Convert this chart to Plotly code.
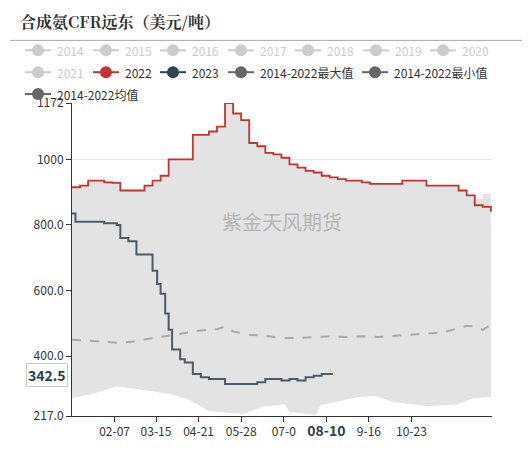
import plotly.graph_objects as go

days22 = [1,8,15,22,29,36,43,50,57,64,71,78,85,92,99,106,113,120,127,134,141,148,155,162,169,176,183,190,197,204,211,218,225,232,239,246,253,260,267,274,281,288,295,302,309,316,323,330,337,344,351,358,365]
v22 = [915,920,935,935,930,928,905,905,905,920,935,950,1000,1000,1000,1075,1075,1085,1100,1172,1140,1120,1050,1040,1020,1015,1005,985,975,965,960,950,945,940,935,935,930,925,925,925,925,935,935,935,920,920,920,920,905,890,860,855,840]
days23 = [1,4,29,40,43,50,57,64,71,75,78,82,85,88,95,99,106,113,120,127,134,141,148,155,162,169,176,183,190,197,204,211,218,227]
v23 = [835,810,805,800,760,750,710,710,660,620,590,530,480,420,390,380,345,335,330,330,315,315,315,315,320,330,330,325,330,325,335,340,345,342.5]
max_days = [1,8,15,22,29,36,43,50,57,64,71,78,85,92,99,106,113,120,127,134,141,148,155,162,169,176,183,190,197,204,211,218,225,232,239,246,253,260,267,274,281,288,295,302,309,316,323,330,337,344,351,358,365]
max_v = [915,920,935,935,930,928,905,905,905,920,935,950,1000,1000,1000,1075,1075,1085,1100,1172,1140,1120,1050,1040,1020,1015,1005,985,975,965,960,950,945,940,935,935,930,925,925,925,925,935,935,935,920,920,920,920,905,890,880,895,910]
min_days = [1,20,40,64,85,103,120,150,168,186,190,213,217,250,265,280,310,336,350,365]
min_v = [272,285,308,295,285,266,232,223,247,253,229,220,250,275,278,260,247,253,272,275]
mean_days = [1,15,29,43,57,71,85,99,113,127,134,141,155,169,183,197,211,225,239,253,267,281,295,309,323,337,344,351,358,365]
mean_v = [450,447,445,440,445,455,462,470,478,482,490,475,465,462,455,455,458,460,458,460,458,462,465,470,472,485,492,490,480,495]
legend_names = ["2014","2015","2016","2017","2018","2019","2020","2021","2022","2023","2014-2022最大值","2014-2022最小值","2014-2022均值"]
legend_colors = ["#ccc"]*8 + ["#c23531","#2f4554","#666","#666","#666"]
legend_text_colors = ["#ccc"]*8 + ["#333"]*5
tick_days = [38,74,111,148,185,222,259,296]
tick_labels = ["02-07","03-15","04-21","05-28","07-0","<b style='font-size:14px;color:#2d3e50'>08-10</b>","9-16","10-23"]
y_ticks = [217,400,600,800,1000,1172]
y_labels = ["217.0","400.0","600.0","800.0","1000","1172"]

OFF = 8  # page body margin
L, T, W, H = 72 - OFF, 103 - OFF, 420, 315
FW, FH = 532 - 2*OFF, 460 - 2*OFF
def px(x): return (x - OFF - L) / W
def py(y): return (T + H - (y - OFF)) / H

leg_pos = [(38,50),(106,50),(173,50),(241,50),(308,50),(376,50),(443,50),
           (38,72),(106,72),(173,72),(241,72),(375,72),(38,94)]

fig = go.Figure()
fig.add_trace(go.Scatter(x=min_days, y=min_v, mode="lines", line=dict(width=0), hoverinfo="skip"))
fig.add_trace(go.Scatter(x=max_days, y=max_v, mode="lines", line=dict(width=0, shape="hv"), fill="tonexty",
                         fillcolor="#e3e3e3", hoverinfo="skip", name="2014-2022最大值"))
fig.add_trace(go.Scatter(x=days22, y=v22, name="2022", mode="lines", line=dict(color="#c23531", width=1.8, shape="hv")))
fig.add_trace(go.Scatter(x=mean_days, y=mean_v, name="2014-2022均值", mode="lines", line=dict(color="#aaa", width=2, dash="dash")))
fig.add_trace(go.Scatter(x=days23, y=v23, name="2023", mode="lines", line=dict(color="#4d5a68", width=2, shape="hv")))

shapes = [dict(type="line", xref="paper", yref="paper", x0=px(10), x1=px(522), y0=py(40), y1=py(40),
               line=dict(color="#aaa", width=1))]
annotations = []
for (cx, cy), name, col, tcol in zip(leg_pos, legend_names, legend_colors, legend_text_colors):
    shapes.append(dict(type="line", xref="paper", yref="paper", x0=px(cx-13), x1=px(cx+13), y0=py(cy), y1=py(cy),
                       line=dict(color=col, width=2)))
    shapes.append(dict(type="circle", xref="paper", yref="paper", xsizemode="pixel", ysizemode="pixel",
                       xanchor=px(cx), yanchor=py(cy), x0=-6, x1=6, y0=-6, y1=6,
                       fillcolor=col, line=dict(width=0)))
    annotations.append(dict(text=name, x=px(cx+17), y=py(cy), xref="paper", yref="paper", xanchor="left",
                            yanchor="middle", showarrow=False, font=dict(size=12, color=tcol)))
annotations += [
    dict(text="<b>合成氨CFR远东（美元/吨）</b>", x=px(18), y=py(21), xref="paper", yref="paper", xanchor="left",
         yanchor="middle", showarrow=False, font=dict(family="Noto Serif CJK SC, Noto Sans CJK SC, serif", size=16, color="#333")),
    dict(text="紫金天风期货", x=0.5, y=0.62, xref="paper", yref="paper", showarrow=False,
         font=dict(size=20, color="rgba(150,150,150,0.6)")),
    dict(text="<b>342.5</b>", x=0, xref="paper", y=342.5, yref="y", xanchor="right", showarrow=False,
         font=dict(size=14, color="#2d3e50"), bgcolor="white", bordercolor="#ccc", borderwidth=1, xshift=-4),
]

fig.update_layout(
    width=FW, height=FH, plot_bgcolor="white", paper_bgcolor="white",
    margin=dict(l=L, r=FW-L-W, t=T, b=FH-T-H),
    font=dict(family="Noto Sans CJK SC, sans-serif", size=12, color="#333"),
    showlegend=False,
    xaxis=dict(range=[1, 366], tickvals=tick_days, ticktext=tick_labels, showgrid=False, showline=True,
               linecolor="#333", ticks="outside", ticklen=5, tickcolor="#333", tickfont=dict(color="#333"), zeroline=False),
    yaxis=dict(range=[217, 1172], tickvals=y_ticks, ticktext=y_labels, showgrid=True, gridcolor="#e6e6e6",
               showline=True, linecolor="#333", ticks="outside", ticklen=5, tickcolor="#333", zeroline=False),
    shapes=shapes, annotations=annotations,
)
fig.write_html("out.html")
